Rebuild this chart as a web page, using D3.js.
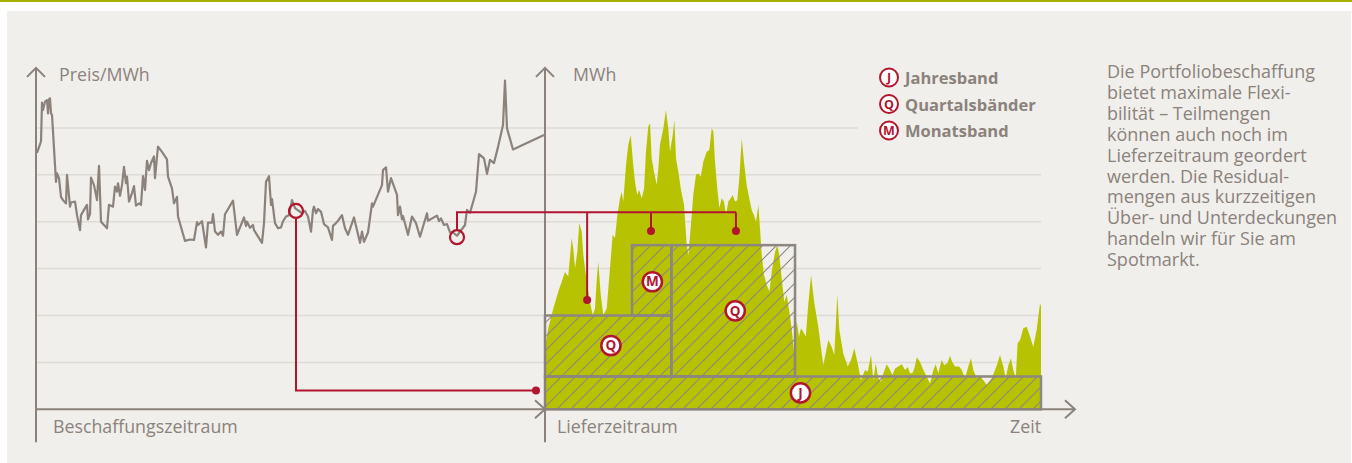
<!DOCTYPE html>
<html>
<head>
<meta charset="utf-8">
<script src="https://cdn.jsdelivr.net/npm/d3@7"></script>
<style>
  body { margin: 0; background: #fff; }
  svg { display: block; font-family: "Open Sans", sans-serif; }
</style>
</head>
<body>
<div id="chart"></div>
<script>
// Preis-Verlauf im Beschaffungszeitraum (Tag, Preis)
const priceT = [1,5,6,7,9,11,12,13,14,15,16,20,21,23,25,27,30,31,34,35,39,41,44,45,49,51,52,54,55,58,
  61,63,65,71,73,77,79,81,82,84,86,88,90,91,93,96,98,100,103,105,107,109,111,113,115,118,119,122,126,131,
  132,136,138,141,142,149,154,158,161,162,166,170,172,176,177,179,182,185,187,189,197,201,208,210,211,214,217,218,226,228,
  230,233,235,236,239,242,245,247,250,253,256,259,266,269,272,275,277,278,280,282,285,288,292,296,297,300,302,306,309,312,
  318,324,326,328,332,336,337,346,347,350,352,355,361,362,364,366,367,372,376,380,384,391,392,401,403,405,408,411,414,417,
  421,429,431,434,440,443,448,451,454,458,462,467,469,471,477,508];
const priceV = [54.7,57.1,65.4,63.8,65.6,65.9,63.1,66.1,66.3,63.1,62.8,48.5,50.3,49.3,45.3,44.6,43.9,50.0,43.2,44.1,
  44.3,41.4,38.2,41.4,42.9,43.6,40.5,41.6,49.4,47.8,44.6,51.9,40.0,38.6,43.6,43.2,47.5,46.4,48.2,45.5,47.8,51.7,48.2,49.6,44.3,46.1,47.6,43.4,43.9,43.6,
  49.7,46.8,53.0,51.0,52.5,53.9,49.3,56.0,54.9,53.3,49.6,47.1,43.9,45.3,41.1,35.9,36.2,36.1,39.9,39.3,40.1,34.5,39.8,39.8,41.6,37.9,37.2,37.9,37.0,41.6,
  44.5,37.2,40.9,39.1,40.0,38.7,39.3,38.2,35.5,39.7,48.5,49.7,43.6,44.8,39.7,38.6,38.8,40.1,41.1,41.4,44.6,42.9,41.8,42.3,41.1,37.9,42.5,43.2,41.8,42.7,
  42.1,39.5,38.8,36.1,39.1,39.7,40.2,41.4,38.6,37.2,40.9,35.5,37.9,35.7,37.7,43.9,43.2,47.8,51.0,51.6,46.4,49.3,45.7,41.4,43.2,40.5,41.2,37.2,41.1,39.7,
  36.8,41.8,40.2,41.3,40.1,40.7,39.3,39.5,37.7,37.7,37.0,39.3,42.5,41.9,46.4,54.4,53.5,50.2,53.2,52.5,55.9,60.6,70.1,59.9,55.4,58.5];

// Lastgang im Lieferzeitraum (Tag des Jahres, MWh)
const loadDay = [0,0.7,2.4,6.1,9.8,12.3,14.7,17.1,19.6,20.8,22.1,23.8,25.2,27.0,28.2,30.7,33.1,35.1,36.8,38.0,
  39.2,41.0,42.9,45.4,47.8,49.8,51.5,53.2,55.2,56.4,57.6,59.6,61.3,63.1,64.5,66.2,67.9,69.2,71.2,72.9,
  74.3,76.0,77.3,78.5,80.2,82.2,83.4,84.6,87.1,89.0,90.7,92.0,94.0,95.2,96.4,98.1,99.9,102.3,104.3,105.5,
  107.2,109.1,111.1,112.8,114.6,116.5,119.0,120.9,122.7,123.9,125.1,126.8,128.3,130.0,131.7,133.2,134.9,136.7,138.1,139.8,
  141.5,143.0,144.8,146.4,148.4,150.3,152.1,153.8,155.3,157.0,158.2,159.5,161.2,163.2,165.1,166.8,169.3,171.0,172.4,174.2,
  176.1,177.9,179.8,181.5,183.2,185.2,186.9,188.4,190.1,191.9,193.8,195.8,198.2,201.1,204.8,208.5,211.0,212.9,215.1,216.6,
  219.5,222.8,225.2,227.6,230.1,232.5,235.5,237.5,239.9,241.6,243.4,245.3,247.3,249.0,251.5,253.9,255.6,257.6,260.0,262.5,
  265.0,267.0,268.6,270.3,271.8,273.6,276.0,278.4,280.9,283.3,285.8,287.5,289.4,291.9,293.8,296.3,298.0,299.7,301.7,304.7,
  306.7,309.1,311.5,313.5,315.2,317.7,320.1,322.6,325.1,328.7,331.2,333.1,334.8,337.3,339.0,341.0,342.9,344.6,346.4,347.8,
  349.6,352.0,354.5,356.9,359.3,361.8,364.3,365];
const loadMWh = [12,14.4,17.3,21.5,25.1,27.2,29.3,28.3,36.5,34.3,30.1,33.6,39.7,37.9,32.9,27.2,22.9,20.1,21.5,27.2,
  31.5,24.4,20.1,21.5,30.1,37.2,36.5,41.4,45.0,46.4,44.3,52.1,56.4,58.5,53.5,48.5,45.7,46.8,45.0,47.1,
  54.9,60.3,61.0,53.5,50.7,47.8,51.4,56.4,59.9,63.8,59.9,54.9,58.5,61.7,53.5,50.7,47.1,43.6,35.0,32.9,
  38.6,45.7,50.0,50.3,49.6,52.8,54.9,55.3,59.9,59.2,52.8,47.1,42.9,45.0,44.3,41.4,44.3,45.0,45.7,44.3,
  44.6,49.3,57.8,52.8,47.8,45.0,42.5,41.4,40.0,43.6,38.6,32.9,28.6,26.5,25.1,29.3,33.6,35.0,32.9,27.9,
  22.9,24.4,20.8,17.3,12.3,19.0,15.5,17.3,16.5,15.5,22.6,28.6,22.6,17.6,9.4,14.8,13.3,11.6,24.4,16.9,
  11.9,9.1,10.5,13.0,9.8,6.2,8.4,8.0,11.6,6.2,9.8,6.6,5.9,7.7,9.6,8.4,7.3,8.7,9.1,9.6,
  8.4,9.0,7.7,7.7,8.7,11.1,10.1,8.4,7.0,5.5,8.4,9.6,7.7,10.5,9.4,9.9,11.4,10.1,9.1,9.1,
  8.4,6.6,9.1,10.9,8.4,6.6,7.1,6.2,5.2,6.6,8.4,9.9,11.6,9.1,6.6,9.4,10.9,8.4,6.6,14.1,
  14.8,17.3,17.6,15.5,13.3,16.9,22.6,21.9];

// Baender (J, Q, M, Q): Tage und MWh-Ebenen
const bandKey   = ["J", "Q", "M", "Q"];
const bandStart = [0, 0, 64, 93];
const bandEnd   = [365, 93, 93, 184];
const bandLow   = [0, 7, 20, 7];
const bandHigh  = [7, 20, 35, 35];
const labelDay  = [188, 48.5, 79, 140];
const labelMWh  = [3.5, 13.6, 27.2, 21];

// Kaufzeitpunkte im Preisverlauf
const buyT = [260, 421];
const buyV = [42.3, 36.7];
// Zweiter Kauf verteilt auf Q, M, Q
const orderDay = [31, 78, 140.5];
const orderMWh = [23.3, 38, 38];

const legendKey  = ["J", "Q", "M"];
const legendText = ["Jahresband", "Quartalsbänder", "Monatsband"];
const gridTicks  = [10, 20, 30, 40, 50, 60];

const paraLines = [
  "Die Portfoliobeschaffung",
  "bietet maximale Flexi-",
  "bilität – Teilmengen",
  "können auch noch im",
  "Lieferzeitraum geordert",
  "werden. Die Residual-",
  "mengen aus kurzzeitigen",
  "Über- und Unterdeckungen",
  "handeln wir für Sie am",
  "Spotmarkt."
];

const W = 1352, H = 463;
const GRAY = "#8b827c", RED = "#b3142e", GREEN = "#b7c300", GRID = "#dedbd5";

const svg = d3.select("#chart").append("svg").attr("width", W).attr("height", H);

svg.append("rect").attr("width", W).attr("height", H).attr("fill", "#fff");
svg.append("rect").attr("x", 0).attr("y", 0).attr("width", W).attr("height", 2).attr("fill", "#a6b000");
svg.append("rect").attr("x", 7).attr("y", 11).attr("width", W - 8).attr("height", H - 11).attr("fill", "#f0efeb");

const defs = svg.append("defs");
defs.append("pattern").attr("id", "hatch")
  .attr("patternUnits", "userSpaceOnUse").attr("width", 14).attr("height", 14)
  .append("path").attr("d", "M-2,2 L2,-2 M0,14 L14,0 M12,16 L16,12")
  .attr("stroke", "#8d8681").attr("stroke-width", 1.1);

// scales
const xL = d3.scaleLinear().domain([0, 509]).range([36, 545]);
const xR = d3.scaleLinear().domain([0, 365]).range([545, 1041]);
const y  = d3.scaleLinear().domain([0, 60]).range([409.3, 127.9]);

// grid
const grid = svg.append("g").attr("stroke", GRID).attr("stroke-width", 1.5);
gridTicks.forEach(v => {
  grid.append("line").attr("x1", xL(0)).attr("x2", xR(v === 60 ? 230 : 365))
    .attr("y1", y(v)).attr("y2", y(v));
});

// Lastgang
const load = d3.zip(loadDay, loadMWh);
svg.append("path").datum(load)
  .attr("fill", GREEN)
  .attr("d", d3.area().x(d => xR(d[0])).y0(y(0)).y1(d => y(d[1])));

// Baender
const bands = bandKey.map((k, i) => ({ k, s: bandStart[i], e: bandEnd[i], lo: bandLow[i], hi: bandHigh[i] }));
svg.append("g").selectAll("rect").data(bands).join("rect")
  .attr("x", d => xR(d.s)).attr("width", d => xR(d.e) - xR(d.s))
  .attr("y", d => y(d.hi)).attr("height", d => y(d.lo) - y(d.hi))
  .attr("fill", "url(#hatch)").attr("stroke", "#8d8681").attr("stroke-width", 2.5);

// Achsen
const axis = svg.append("g").attr("stroke", GRAY).attr("stroke-width", 2).attr("fill", "none");
[xL(0), xR(0)].forEach(x => {
  axis.append("line").attr("x1", x).attr("x2", x).attr("y1", y(-7)).attr("y2", y(72.8));
  axis.append("path").attr("d", `M${x - 9},${y(72.8) + 9} L${x},${y(72.8)} L${x + 9},${y(72.8) + 9}`);
});
axis.append("line").attr("x1", xL(0)).attr("x2", xR(390)).attr("y1", y(0)).attr("y2", y(0));
[xR(0), xR(390)].forEach(x => {
  axis.append("path").attr("d", `M${x - 10},${y(0) - 9} L${x},${y(0)} L${x - 10},${y(0) + 9}`);
});

// Preis
const price = d3.zip(priceT, priceV);
svg.append("path").datum(price)
  .attr("fill", "none").attr("stroke", GRAY).attr("stroke-width", 2.2).attr("stroke-linejoin", "round")
  .attr("d", d3.line().x(d => xL(d[0])).y(d => y(d[1])));

// Verbindungen
const red = svg.append("g").attr("stroke", RED).attr("stroke-width", 2).attr("fill", "none");
const b1x = xL(buyT[0]), b1y = y(buyV[0]);
red.append("path").attr("d", `M${b1x},${b1y + 7} V${y(4)} H${xR(0) - 9}`);
svg.append("circle").attr("cx", xR(0) - 9).attr("cy", y(4)).attr("r", 4).attr("fill", RED);

const b2x = xL(buyT[1]), b2y = y(buyV[1]);
const topY = y(42);
red.append("path").attr("d", `M${b2x},${b2y - 7} V${topY} H${xR(d3.max(orderDay))}`);
orderDay.forEach((d, i) => {
  red.append("line").attr("x1", xR(d)).attr("x2", xR(d)).attr("y1", topY).attr("y2", y(orderMWh[i]));
  svg.append("circle").attr("cx", xR(d)).attr("cy", y(orderMWh[i])).attr("r", 4).attr("fill", RED);
});

svg.append("g").selectAll("circle").data(buyT).join("circle")
  .attr("cx", (d, i) => xL(d)).attr("cy", (d, i) => y(buyV[i])).attr("r", 7)
  .attr("fill", "none").attr("stroke", RED).attr("stroke-width", 2.2);

// Band-Label
const lab = svg.append("g").selectAll("g").data(bandKey).join("g")
  .attr("transform", (d, i) => `translate(${xR(labelDay[i])},${y(labelMWh[i])})`);
lab.append("circle").attr("r", 9.6).attr("fill", "#fff").attr("stroke", RED).attr("stroke-width", 2.5);
lab.append("text").attr("text-anchor", "middle").attr("y", 4.7)
  .attr("font-size", 13.5).attr("font-weight", 700).attr("fill", RED).text(d => d);

// Legende
const leg = svg.append("g").selectAll("g").data(legendKey).join("g")
  .attr("transform", (d, i) => `translate(889,${77.5 + i * 26.5})`);
leg.append("circle").attr("r", 9).attr("fill", "#fff").attr("stroke", RED).attr("stroke-width", 2);
leg.append("text").attr("text-anchor", "middle").attr("y", 4.5)
  .attr("font-size", 12.5).attr("font-weight", 700).attr("fill", RED).text(d => d);
leg.append("text").attr("x", 16).attr("y", 6.5)
  .attr("font-size", 16.5).attr("font-weight", 700).attr("fill", GRAY).text((d, i) => legendText[i]);

// Achsentitel
const t = svg.append("g").attr("fill", GRAY).attr("font-size", 17.8);
t.append("text").attr("x", 59).attr("y", 81).text("Preis/MWh");
t.append("text").attr("x", 573).attr("y", 81).text("MWh");
t.append("text").attr("x", 53).attr("y", 433).text("Beschaffungszeitraum");
t.append("text").attr("x", 557).attr("y", 433).text("Lieferzeitraum");
t.append("text").attr("x", 1041).attr("y", 433).attr("text-anchor", "end").text("Zeit");

// Text rechts, ein Block mit tspans
t.append("text").attr("font-size", 18).attr("y", 78.3)
  .selectAll("tspan").data(paraLines).join("tspan")
  .attr("x", 1107).attr("dy", (d, i) => i === 0 ? 0 : 20.84).text(d => d);
</script>
</body>
</html>
